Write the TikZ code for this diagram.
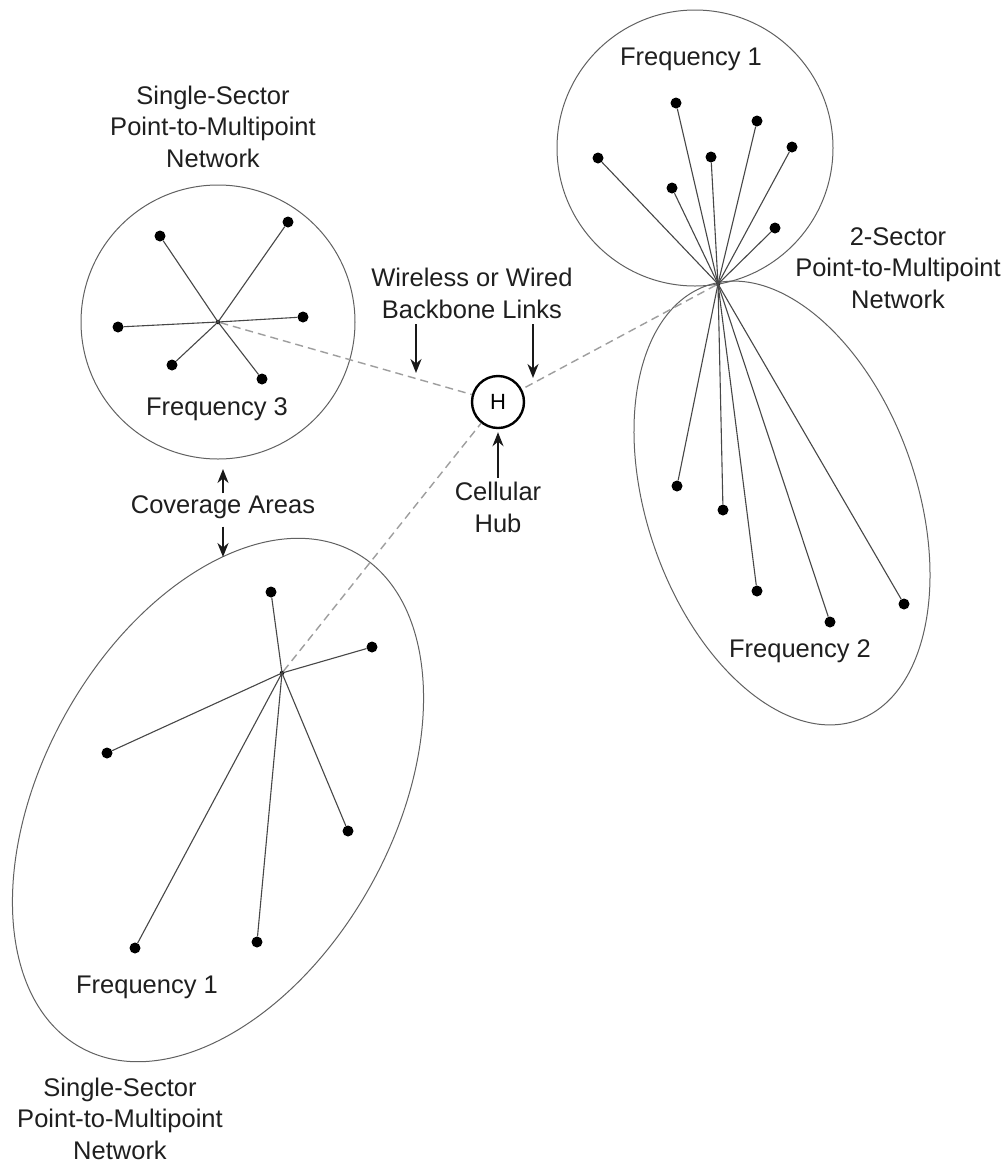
\documentclass[tikz,border=0pt]{standalone}
\usepackage{fontspec}
\setmainfont{Liberation Sans}
\usetikzlibrary{arrows.meta}
\begin{document}
\begin{tikzpicture}[x=1pt,y=-1pt,
  lbl/.style={font=\fontsize{25.5}{31.5}\selectfont, text=black!88, align=center, inner sep=0pt},
  station/.style={circle, fill=black, inner sep=0pt, minimum size=11pt},
  base station/.style={circle, fill=black, inner sep=0pt, minimum size=4.5pt},
  spoke/.style={draw=black!72, line width=1.1pt},
  area/.style={draw=black!62, line width=1pt},
  link/.style={draw=black!38, line width=1.4pt, dash pattern=on 8pt off 5pt},
  pointer/.style={draw=black!90, line width=2pt, -{Stealth[length=14pt,width=11pt]}},
  hubnode/.style={draw=black, circle, line width=2.4pt, minimum size=52pt, inner sep=0pt,
                  font=\fontsize{22}{22}\selectfont}
]
\useasboundingbox (0,0) rectangle (1007,1163);
\fill[white] (0,0) rectangle (1007,1163);

% ---------- base stations (network centres) and cellular hub
\node[base station] (a0) at (218,322) {};
\node[base station] (b0) at (718,284) {};
\node[base station] (d0) at (282,673) {};
\node[hubnode] (hub) at (498,402) {H};

% ---------- coverage areas
\draw[area] (a0.center) circle[radius=137];
\draw[area] (695,148) circle[radius=138];
\draw[area, rotate around={19:(782,503)}] (782,503) ellipse[x radius=135, y radius=230];
\draw[area, rotate around={61:(218,800)}] (218,800) ellipse[x radius=283, y radius=175];

% ---------- backbone links to the hub
\draw[link] (a0) -- (hub);
\draw[link] (b0) -- (hub);
\draw[link] (d0) -- (hub);

% ---------- single-sector network, frequency 3
\node[station] (a1) at (160,236) {};
\node[station] (a2) at (288,222) {};
\node[station] (a3) at (118,327) {};
\node[station] (a4) at (303,317) {};
\node[station] (a5) at (172,365) {};
\node[station] (a6) at (262,379) {};
\foreach \k in {1,...,6} \draw[spoke] (a0.center) -- (a\k);

% ---------- 2-sector network, frequency 1 sector
\node[station] (b1) at (676,103) {};
\node[station] (b2) at (757,121) {};
\node[station] (b3) at (598,158) {};
\node[station] (b4) at (711,157) {};
\node[station] (b5) at (792,147) {};
\node[station] (b6) at (672,188) {};
\node[station] (b7) at (775,228) {};
\foreach \k in {1,...,7} \draw[spoke] (b0.center) -- (b\k);

% ---------- 2-sector network, frequency 2 sector
\node[station] (c1) at (677,486) {};
\node[station] (c2) at (723,510) {};
\node[station] (c3) at (757,591) {};
\node[station] (c4) at (830,622) {};
\node[station] (c5) at (904,604) {};
\foreach \k in {1,...,5} \draw[spoke] (b0.center) -- (c\k);

% ---------- single-sector network, frequency 1
\node[station] (d1) at (271,592) {};
\node[station] (d2) at (372,647) {};
\node[station] (d3) at (107,753) {};
\node[station] (d4) at (348,831) {};
\node[station] (d5) at (135,948) {};
\node[station] (d6) at (257,942) {};
\foreach \k in {1,...,6} \draw[spoke] (d0.center) -- (d\k);

% ---------- labels (multi-line labels are placed by the baseline of their last line)
\node[lbl, anchor=base] (na) at (213,167) {Single-Sector\\Point-to-Multipoint\\Network};
\node[lbl, anchor=base] (fa) at (217,415) {Frequency 3};
\node[lbl, anchor=base] (fb) at (691,65) {Frequency 1};
\node[lbl, anchor=base] (fc) at (800,657) {Frequency 2};
\node[lbl, anchor=base] (nb) at (898,308) {2-Sector\\Point-to-Multipoint\\Network};
\node[lbl, anchor=base] (fd) at (147,993) {Frequency 1};
\node[lbl, anchor=base] (nd) at (120,1159) {Single-Sector\\Point-to-Multipoint\\Network};
\node[lbl, anchor=base] (wl) at (472,318) {Wireless or Wired\\Backbone Links};
\node[lbl, anchor=base] (cell) at (498,532) {Cellular\\Hub};
\node[lbl, anchor=base] (cov) at (223,513) {Coverage Areas};

% ---------- pointer arrows
\coordinate (bbL) at (416,373);
\coordinate (bbR) at (533,378);
\coordinate (covup) at (223,469);
\coordinate (covdn) at (223,557);
\draw[pointer, shorten <=6pt] (wl.south -| bbL) -- (bbL);
\draw[pointer, shorten <=6pt] (wl.south -| bbR) -- (bbR);
\draw[pointer, shorten <=4pt, shorten >=3pt] (cell.north) -- (hub.south);
\draw[pointer, shorten <=2pt] (cov.north) -- (covup);
\draw[pointer, shorten <=8pt] (cov.south) -- (covdn);
\end{tikzpicture}
\end{document}
